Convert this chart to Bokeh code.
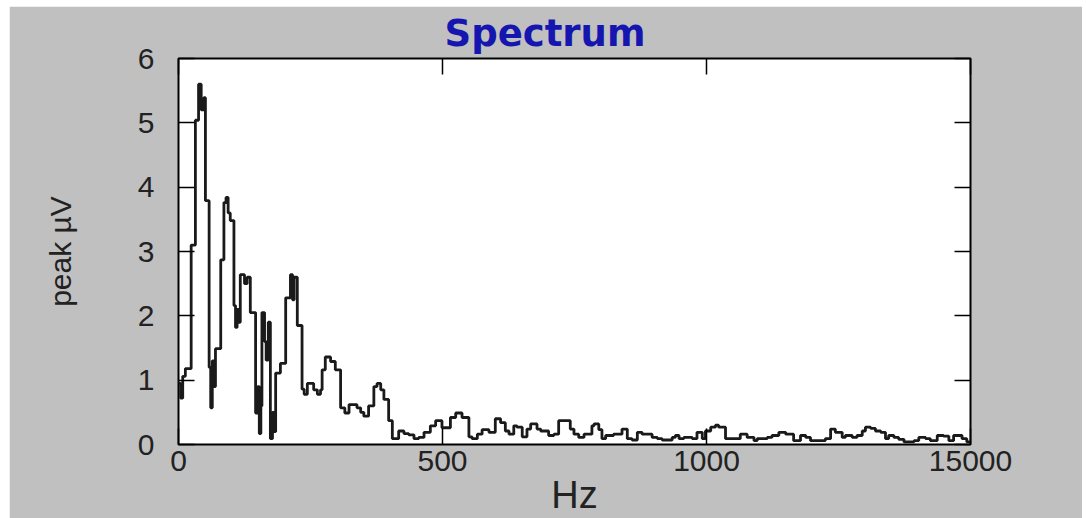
from bokeh.plotting import figure
from bokeh.models import LinearAxis, FixedTicker, Range1d, Title
from bokeh.embed import file_html
from bokeh.resources import INLINE

# ---- data ----
freq_hz = [0, 4, 8, 13, 24, 32, 38, 43, 48, 51, 58, 61, 64, 67, 70, 80, 86, 90, 94, 98,
           105, 108, 111, 114, 117, 125, 130, 136, 146, 150, 153, 156, 158, 163, 166, 170,
           174, 178, 181, 184, 193, 203, 212, 216, 219, 225, 234, 238, 244, 256, 263, 269,
           272, 278, 288, 297, 307, 315, 323, 338, 345, 351, 360, 370, 376, 383, 389, 398,
           405, 417, 427, 436, 446, 455, 465, 477, 487, 499, 515, 525, 537, 550, 556, 566,
           575, 588, 600, 610, 619, 626, 635, 641, 651, 660, 667, 679, 686, 701, 711, 720,
           742, 749, 758, 768, 783, 787, 796, 802, 809, 824, 840, 850, 859, 869, 878, 897,
           907, 916, 926, 935, 941, 948, 957, 973, 982, 992, 998, 1008, 1017, 1023, 1036,
           1064, 1077, 1090, 1096, 1115, 1124, 1137, 1150, 1165, 1178, 1188, 1197, 1216,
           1225, 1235, 1244, 1257, 1263, 1276, 1285, 1295, 1301, 1311, 1320, 1330, 1339,
           1345, 1355, 1364, 1374, 1383, 1393, 1402, 1415, 1424, 1437, 1449, 1459, 1468,
           1484, 1493]
peak_uv = [0.95, 0.72, 1.06, 1.18, 3.10, 5.04, 5.60, 5.20, 5.39, 3.79, 1.20, 0.57, 1.30,
           0.90, 1.49, 2.87, 3.76, 3.84, 3.60, 3.48, 2.16, 1.82, 2.10, 1.90, 2.64, 2.50,
           2.60, 2.05, 0.49, 0.90, 0.17, 0.60, 2.05, 1.60, 1.31, 1.90, 0.09, 0.50, 0.20,
           1.11, 1.26, 2.28, 2.64, 2.25, 2.60, 1.85, 0.86, 0.78, 0.95, 0.85, 0.78, 0.85,
           1.16, 1.36, 1.29, 1.16, 0.57, 0.49, 0.62, 0.57, 0.50, 0.44, 0.60, 0.90, 0.95,
           0.85, 0.70, 0.37, 0.09, 0.21, 0.17, 0.15, 0.09, 0.11, 0.19, 0.29, 0.37, 0.26,
           0.42, 0.49, 0.42, 0.12, 0.09, 0.16, 0.23, 0.19, 0.40, 0.34, 0.21, 0.16, 0.29,
           0.27, 0.12, 0.24, 0.32, 0.24, 0.21, 0.14, 0.16, 0.37, 0.24, 0.16, 0.11, 0.16,
           0.29, 0.32, 0.23, 0.09, 0.14, 0.16, 0.24, 0.09, 0.07, 0.19, 0.16, 0.11, 0.09,
           0.07, 0.07, 0.11, 0.14, 0.09, 0.11, 0.09, 0.19, 0.09, 0.21, 0.27, 0.30, 0.27,
           0.09, 0.16, 0.11, 0.06, 0.09, 0.11, 0.14, 0.19, 0.16, 0.06, 0.14, 0.11, 0.06,
           0.06, 0.09, 0.24, 0.19, 0.11, 0.14, 0.11, 0.14, 0.21, 0.27, 0.25, 0.21, 0.19,
           0.09, 0.14, 0.11, 0.08, 0.04, 0.04, 0.06, 0.11, 0.09, 0.06, 0.14, 0.13, 0.06,
           0.14, 0.09, 0.04]
x_end = 1500
x_ticks = [0, 500, 1000, 1500]
x_tick_labels = ["0", "500", "1000", "15000"]
y_ticks = [0, 1, 2, 3, 4, 5, 6]

GRAY = "#c0c0c0"
TXT = "#222222"

p = figure(width=1073, height=512, output_backend="svg", toolbar_location=None,
           x_range=Range1d(0, x_end), y_range=Range1d(0, 6),
           min_border_left=169, min_border_right=112, min_border_top=51,
           min_border_bottom=69, title=None)
p.margin = (6, 4, 0, 9)
p.background_fill_color = "white"
p.border_fill_color = GRAY
p.outline_line_color = "black"
p.outline_line_width = 2
p.grid.visible = False

xs = list(freq_hz) + [x_end]
ys = list(peak_uv) + [peak_uv[-1]]
p.step(xs, ys, mode="after", line_color="#1a1a1a", line_width=2.8)

def style(ax, labels=True):
    ax.axis_line_color = None
    ax.major_tick_in = 16
    ax.major_tick_out = 0
    ax.major_tick_line_color = "black"
    ax.major_tick_line_width = 1.5
    ax.minor_tick_line_color = None
    ax.major_label_text_font = "Liberation Sans"
    ax.major_label_text_font_size = "30px"
    ax.major_label_text_color = TXT
    if not labels:
        ax.major_label_standoff = 0

xa = p.below[0]
ya = p.left[0]

# inner tick marks on the right and top sides (added before the title so they sit on the frame)
ra = LinearAxis(ticker=FixedTicker(ticks=y_ticks))
style(ra, labels=False)
ra.major_label_overrides = {tk: "" for tk in y_ticks}
p.add_layout(ra, "right")
ta = LinearAxis(ticker=FixedTicker(ticks=x_ticks))
style(ta, labels=False)
ta.major_label_overrides = {tk: "" for tk in x_ticks}
p.add_layout(ta, "above")

t = Title(text="Spectrum", align="left", offset=266, text_font="DejaVu Sans",
          text_font_size="37px", text_font_style="bold", text_color="#1515b0",
          standoff=7)
p.add_layout(t, "above")

xa.ticker = FixedTicker(ticks=x_ticks)
xa.major_label_overrides = {tk: lb for tk, lb in zip(x_ticks, x_tick_labels)}
style(xa)
xa.major_label_standoff = 6
xa.axis_label = "Hz"
xa.axis_label_text_font = "Liberation Sans"
xa.axis_label_text_font_style = "normal"
xa.axis_label_text_font_size = "38px"
xa.axis_label_text_color = TXT
xa.axis_label_standoff = 0

ya.ticker = FixedTicker(ticks=y_ticks)
style(ya)
ya.major_label_standoff = 24
ya.axis_label = "peak µV"
ya.axis_label_text_font = "Liberation Sans"
ya.axis_label_text_font_style = "normal"
ya.axis_label_text_font_size = "30px"
ya.axis_label_text_color = TXT
ya.axis_label_standoff = 58

open("out.html", "w").write(file_html(p, INLINE))
